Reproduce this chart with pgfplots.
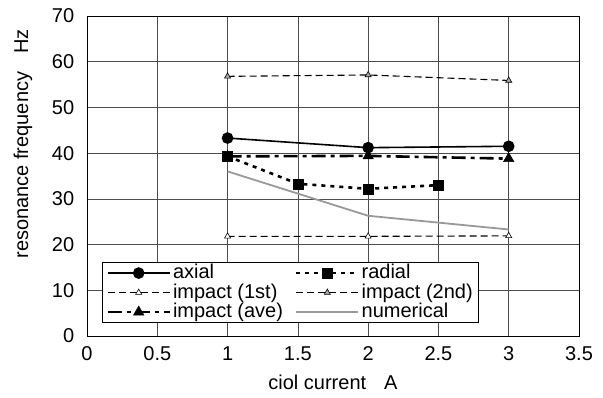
\documentclass[border=0pt]{standalone}
\usepackage{fontspec}
\setmainfont{Liberation Sans}
\usepackage{pgfplots}
\pgfplotsset{compat=1.18}
\begin{document}
\fontsize{20}{22}\selectfont
\begin{tikzpicture}
\begin{axis}[
  scale only axis, width=492pt, height=320pt,
  at={(0,0)}, anchor=south west,
  xmin=0, xmax=3.5, ymin=0, ymax=70,
  xtick={0,0.5,...,3.5}, ytick={0,10,...,70},
  grid=major, grid style={black!70, line width=0.6pt},
  axis line style={black, line width=0.8pt},
  major tick length=0pt,
  /pgf/number format/assume math mode=true,
  ticklabel style={font=\fontsize{20}{22}\selectfont},
  xticklabel style={yshift=-4pt},
  yticklabel style={xshift=-6pt},
  xlabel={ciol current\hspace{0.9em}A},
  ylabel={resonance frequency\hspace{0.9em}Hz},
  label style={font=\fontsize{20}{22}\selectfont},
  xlabel style={at={(axis description cs:0.5,-0.145)}, anchor=center},
  ylabel style={at={(axis description cs:-0.13,0.6)}, anchor=center},
  legend columns=2,
  legend cell align=left,
  legend style={at={(rel axis cs:0.0305,0.04)}, anchor=south west,
    draw=black, line width=0.8pt, fill=white, inner xsep=4pt, inner ysep=1pt,
    font=\fontsize{20}{20}\selectfont, row sep=0pt,
    nodes={inner ysep=1pt, inner xsep=2pt},
    /tikz/every even column/.append style={column sep=10pt}},
  legend image code/.code={
    \draw[mark repeat=2,mark phase=2,#1] plot coordinates {(0pt,0pt) (31pt,0pt) (62pt,0pt)};
  },
]
\addplot[black, line width=1.6pt, mark=*, mark size=5pt, mark options={solid}]
  coordinates {(1,43.3) (2,41.2) (3,41.5)};
\addlegendentry{axial}
\addplot[black, line width=2.6pt, dash pattern=on 4pt off 5pt, mark=square*, mark size=5pt, mark options={solid, line width=0.5pt}]
  coordinates {(1,39.3) (1.5,33.3) (2,32.2) (2.5,33.0)};
\addlegendentry{radial}
\addplot[black, line width=1.1pt, dash pattern=on 7pt off 4pt, mark=triangle*, mark size=3.5pt, mark options={solid, fill=white, line width=0.6pt}]
  coordinates {(1,21.8) (2,21.8) (3,21.9)};
\addlegendentry{impact (1st)}
\addplot[black, line width=1.1pt, dash pattern=on 7pt off 4pt, mark=triangle*, mark size=3.5pt, mark options={solid, fill=black!35, line width=0.6pt}]
  coordinates {(1,56.8) (2,57.1) (3,55.9)};
\addlegendentry{impact (2nd)}
\addplot[black, line width=2.6pt, dash pattern=on 14pt off 5pt on 4pt off 5pt, mark=triangle*, mark size=6pt, mark options={solid, line width=0.5pt}]
  coordinates {(1,39.3) (2,39.4) (3,38.8)};
\addlegendentry{impact (ave)}
\addplot[black!40, line width=1.8pt]
  coordinates {(1,36.0) (2,26.3) (3,23.3)};
\addlegendentry{numerical}
\end{axis}
\path (-87pt,-62pt) rectangle (516pt,336pt);
\end{tikzpicture}
\end{document}
